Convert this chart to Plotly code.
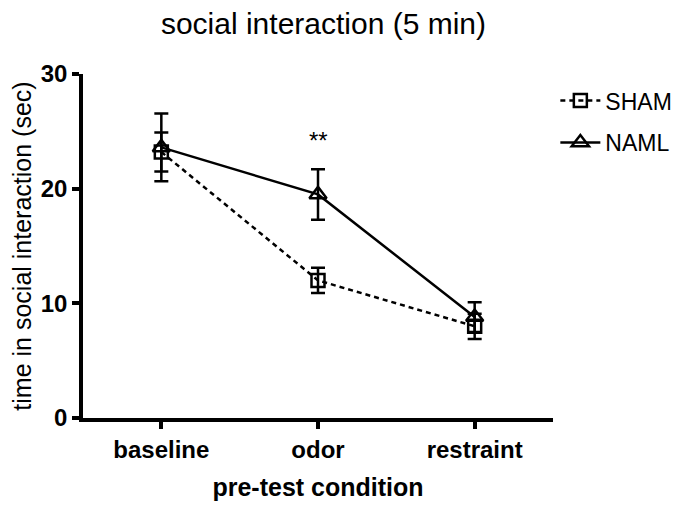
import plotly.graph_objects as go

conditions = ["baseline", "odor", "restraint"]
sham_mean = [23.2, 12.0, 8.0]
sham_sem = [1.7, 1.1, 1.1]
naml_mean = [23.6, 19.5, 8.8]
naml_sem = [2.95, 2.2, 1.3]
y_ticks = [0, 10, 20, 30]
sig_label = "**"
sig_y = 24.2

FONT = "Liberation Sans, Arial, sans-serif"
x_idx = list(range(len(conditions)))

fig = go.Figure()
fig.add_trace(go.Scatter(
    x=x_idx, y=sham_mean, name="SHAM", mode="lines+markers", legendgroup="a",
    line=dict(color="black", width=2.5, dash="5px,4px"),
    marker=dict(symbol="square-open", size=13, color="black", line=dict(width=2.5)),
    error_y=dict(type="data", array=sham_sem, visible=True, color="black", thickness=2.5, width=7),
))
fig.add_trace(go.Scatter(
    x=x_idx, y=naml_mean, name="NAML", mode="lines+markers", legendgroup="b",
    line=dict(color="black", width=2.5),
    marker=dict(symbol="triangle-up-open", size=15, color="black", line=dict(width=2.5)),
    error_y=dict(type="data", array=naml_sem, visible=True, color="black", thickness=2.5, width=7),
))
fig.add_annotation(x=x_idx[1], y=sig_y, text=sig_label, showarrow=False,
                   font=dict(family=FONT, size=24, color="black"))

fig.update_layout(
    width=698, height=508,
    margin=dict(l=67, r=153, t=66, b=98),
    paper_bgcolor="white", plot_bgcolor="white",
    font=dict(family=FONT, color="black"),
    title=dict(text="social interaction (5 min)", x=0.452, xanchor="center", y=0.97, yanchor="middle",
               font=dict(family=FONT, size=30, color="black")),
    showlegend=True,
    legend=dict(x=1.005, y=0.985, xanchor="left", yanchor="top", bgcolor="rgba(0,0,0,0)",
                font=dict(family=FONT, size=23, color="black"), tracegroupgap=9, itemwidth=40),
    xaxis=dict(range=[-0.5, 2.5], tickmode="array", tickvals=x_idx, ticktext=conditions,
               showline=True, linecolor="black", linewidth=3.5, ticks="outside", ticklen=7,
               tickwidth=3.5, tickcolor="black", showgrid=False, zeroline=False,
               tickfont=dict(family=FONT, size=24, color="black", weight="bold"),
               title=dict(text="<b>pre-test condition</b>", font=dict(family=FONT, size=25, color="black"), standoff=18)),
    yaxis=dict(range=[0, 30], tickmode="array", tickvals=y_ticks,
               showline=True, linecolor="black", linewidth=3.5, ticks="outside", ticklen=7,
               tickwidth=3.5, tickcolor="black", showgrid=False, zeroline=False,
               tickfont=dict(family=FONT, size=24, color="black", weight="bold"),
               title=dict(text="time in social interaction (sec)", font=dict(family=FONT, size=25, color="black"), standoff=3)),
)

fig.write_html("out.html")
